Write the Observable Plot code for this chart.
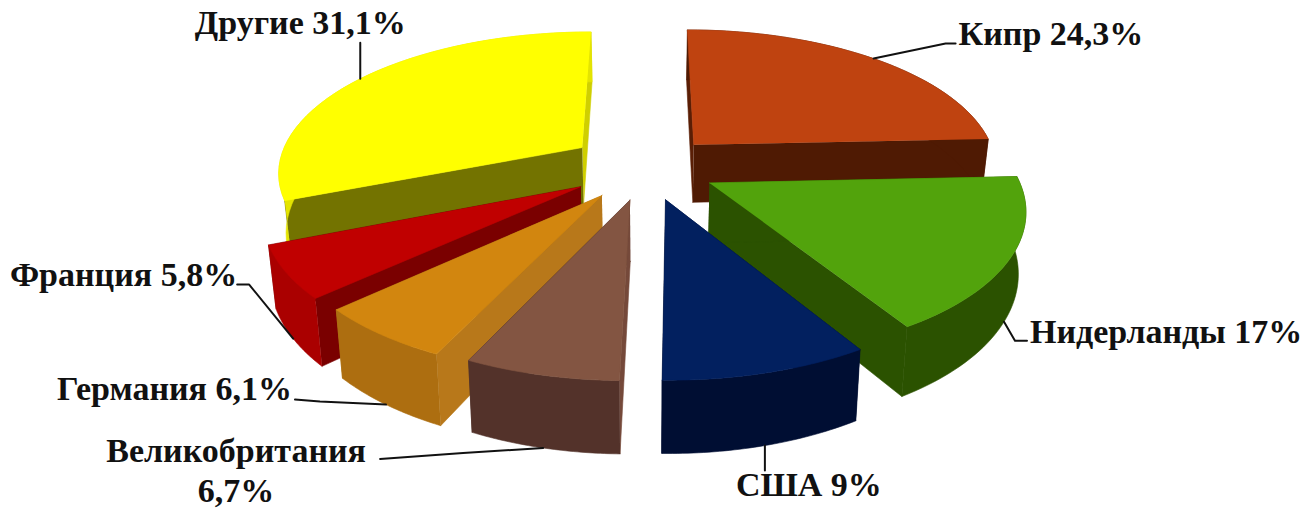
<!DOCTYPE html>
<html><head><meta charset="utf-8">
<script src="https://cdn.jsdelivr.net/npm/d3@7"></script>
<script src="https://cdn.jsdelivr.net/npm/@observablehq/plot@0.6"></script>
<style>html,body{margin:0;padding:0;background:#fff}svg{display:block}</style>
</head><body><div id="chart"></div>
<script>
const names  = ["Кипр","Нидерланды","США","Великобритания","Германия","Франция","Другие"];
const shares = [24.3,17,9,6.7,6.1,5.8,31.1];
const labels = ["Кипр 24,3%","Нидерланды 17%","США 9%","Великобритания\n6,7%","Германия 6,1%","Франция 5,8%","Другие 31,1%"];

const topColors   = ["#BF4310","#52A30C","#02205F","#835542","#D2860F","#C00000","#FFFF00"];
const startColors = ["#5A1E05","#2B5200","#000E33","#75493A","#B8781A","#7A0000","#737300"];
const endColors   = ["#4F1A03","#2B5200","#000E33","#53322A","#B27A16","#7A0000","#CFCF00"];
const rimColors   = ["#4F1A03","#2B5200","#000E33","#53322A","#AD6E10","#AA0000","#E4E400"];
const explode     = [0.23,0.23,0.23,0.23,0.24,0.25,0.26];
const drawOrder   = [6,0,5,1,4,3,2];

// view of the exploded disc
const W=1308,H=508,cx=646,cy=167,B=305,A=140,P=0.16,DEPTH=59;

const total=d3.sum(shares);
const starts=d3.cumsum([0,...shares]).map(v=>v/total*2*Math.PI);
const project=(X,Y,h)=>{const w=1-P*Y;return [cx+B*X/w*(1-0.02*h), cy+A*Y/w+DEPTH*h/w];};
function pt(i,r,th,h){
  const b=(starts[i]+starts[i+1])/2;
  const X=explode[i]*Math.sin(b)+r*Math.sin(th), Y=-explode[i]*Math.cos(b)-r*Math.cos(th);
  return project(X,Y,h);
}
const arc=(i,h,rev)=>{const t=d3.range(41).map(k=>starts[i]+(starts[i+1]-starts[i])*k/40);
  return (rev?t.reverse():t).map(th=>pt(i,1,th,h));};

const rows=[];
const add=(id,color,pts)=>pts.forEach(([x,y])=>rows.push({id,color,x,y}));
for(const i of drawOrder){
  add(`w1${i}`,endColors[i],[pt(i,0,0,0),pt(i,1,starts[i+1],0),pt(i,1,starts[i+1],1),pt(i,0,0,1)]);
  add(`w0${i}`,startColors[i],[pt(i,0,0,0),pt(i,1,starts[i],0),pt(i,1,starts[i],1),pt(i,0,0,1)]);
  add(`r${i}`,rimColors[i],[...arc(i,0,false),...arc(i,1,true)]);
  add(`t${i}`,topColors[i],[pt(i,0,0,0),...arc(i,0,false)]);
}

// callouts: slice, position along its arc, height on the rim, elbow and end offsets, label offset
const callouts=[
 {i:0,f:0.5,h:0,elbow:[72,-15],end:[82,-15],lab:[3,-9],anchor:"start"},
 {i:1,f:0.5,h:1,elbow:[11,19],end:[23,19],lab:[3,-8],anchor:"start"},
 {i:2,f:0.5,h:1,elbow:[0,12],end:[0,25],lab:[44,15],anchor:"middle"},
 {i:3,f:0.5,h:1,elbow:[-80,5],end:[-163,11],lab:[-144,13],anchor:"middle"},
 {i:4,f:0.5,h:1,elbow:[-66,-3],end:[-91,-5],lab:[-3,-10],anchor:"end"},
 {i:5,f:0.5,h:1,elbow:[-44,-54],end:[-56,-54],lab:[0,-9],anchor:"end"},
 {i:6,f:0.5,h:0,elbow:[0,-18],end:[0,-36],lab:[-60,-19],anchor:"middle"}
];
const leaderRows=[],labelRows=[];
callouts.forEach((c,n)=>{
  const i=c.i, th=starts[i]+(starts[i+1]-starts[i])*c.f;
  const p=pt(i,1,th,c.h);
  [[0,0],c.elbow,c.end].forEach(o=>leaderRows.push({id:n,x:p[0]+o[0],y:p[1]+o[1]}));
  labelRows.push({x:p[0]+c.end[0]+c.lab[0],y:p[1]+c.end[1]+c.lab[1],text:labels[i],anchor:c.anchor});
});

const textOpts={x:"x",y:"y",text:"text",dy:-3,fontFamily:"'Liberation Serif'",fontWeight:"bold",fontSize:34,fill:"#111",lineHeight:1.2,lineAnchor:"middle"};
const chart=Plot.plot({
  width:W,height:H,margin:0,
  x:{domain:[0,W],range:[0,W],axis:null},
  y:{domain:[0,H],range:[0,H],axis:null},
  color:{type:"identity"},
  marks:[
    Plot.line(rows,{x:"x",y:"y",z:"id",fill:"color",stroke:"color",strokeWidth:0.6,curve:"linear"}),
    Plot.line(leaderRows,{x:"x",y:"y",z:"id",stroke:"#111",strokeWidth:2}),
    ...["start","middle","end"].map(a=>Plot.text(labelRows.filter(d=>d.anchor===a),{...textOpts,textAnchor:a}))
  ]
});
document.getElementById("chart").append(chart);
</script></body></html>
